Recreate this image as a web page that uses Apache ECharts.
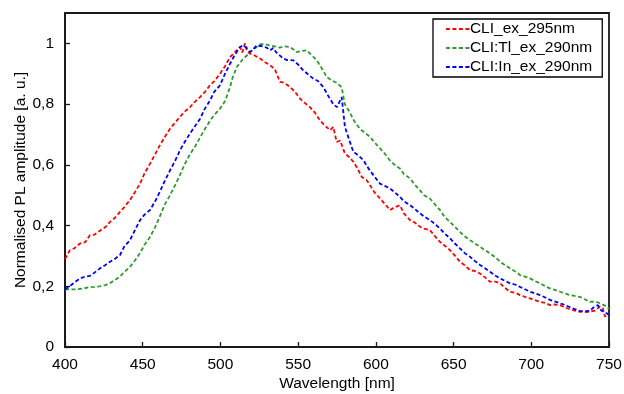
<!DOCTYPE html>
<html><head><meta charset="utf-8">
<script src="https://cdn.jsdelivr.net/npm/echarts@6/dist/echarts.min.js"></script>
<style>html,body{margin:0;padding:0;background:#fff}#c{width:624px;height:394px}</style>
</head><body><div id="c"></div>
<script>
const seriesNames = ['CLI_ex_295nm', 'CLI:Tl_ex_290nm', 'CLI:In_ex_290nm'];
const xTicks = [400, 450, 500, 550, 600, 650, 700, 750];
const yTicks = [0, 0.2, 0.4, 0.6, 0.8, 1];

const redX = [400,403.2,406,409.7,413,416,419,422.5,426,429,432,435.4,438,441.8,445,448.3,451,454.7,458,461,464,467.6,471,474,477,480.4,484,486.9,490,493.3,496,499.7,503,506.2,509,512.6,514,515.8,517,519,522,525.5,528,531.9,535,538.3,541,544.8,548,551.2,554,557.6,561,564,567,570.6,572.6,574.8,577,580.1,583,585.5,588,590.9,594,596.2,599,602.7,606,609.1,612,615.5,618,622,625,628.4,631,634.8,638,641.3,644,647.7,651,654.1,657,660.6,664,667,670,673.4,677,679.9,683,686.3,690,692.7,696,699.2,702,705.6,709,712,715,718.5,722,724.9,728,731.3,734,737.7,741,744.2,746,747.4,750];
const redY = [0.29,0.319,0.325,0.341,0.345,0.368,0.37,0.383,0.395,0.412,0.425,0.445,0.46,0.484,0.51,0.538,0.57,0.604,0.635,0.664,0.69,0.719,0.74,0.758,0.775,0.79,0.81,0.823,0.84,0.862,0.875,0.9,0.925,0.955,0.97,0.988,0.97,1.0,0.975,0.966,0.96,0.95,0.94,0.928,0.915,0.873,0.87,0.856,0.84,0.818,0.805,0.79,0.77,0.747,0.73,0.714,0.725,0.675,0.68,0.637,0.625,0.61,0.59,0.56,0.55,0.533,0.51,0.489,0.47,0.451,0.46,0.467,0.44,0.418,0.41,0.396,0.39,0.385,0.365,0.346,0.335,0.319,0.3,0.281,0.27,0.253,0.25,0.242,0.23,0.215,0.215,0.21,0.195,0.182,0.178,0.171,0.165,0.16,0.155,0.149,0.145,0.138,0.14,0.138,0.13,0.124,0.12,0.116,0.115,0.116,0.12,0.133,0.128,0.1,0.11];

const greenX = [400,404,407.5,412,416,419,422.5,426,429,432,435.4,438,441.8,445,448.3,451,454.7,458,461,464,467.6,471,474,477,480.4,484,486.9,490,493.3,496,499.7,503,506.2,508,510.5,514,517,520,523.3,525.5,528,532,535,538.3,541,544.8,547,549,552,555.5,558,562,565,568.4,571,574.8,578,580,583,586,589.7,593,596.2,599,602.7,606,609,612,615.5,618,622,625,628.4,631,634.8,638,641.3,644,647.7,651,654.1,657,660.6,664,667,670,673.4,677,679.9,683,686.3,690,692.7,696,699.2,702,705.6,709,712,715,718.5,722,724.9,728,731.3,734,737.7,741,744.2,746,748.5,750];
const greenY = [0.19,0.19,0.19,0.193,0.197,0.198,0.2,0.204,0.211,0.22,0.232,0.246,0.264,0.285,0.31,0.335,0.362,0.395,0.43,0.467,0.5,0.535,0.567,0.602,0.635,0.663,0.69,0.718,0.745,0.764,0.785,0.81,0.856,0.89,0.922,0.945,0.96,0.975,0.988,0.997,0.998,0.993,0.99,0.986,0.99,0.988,0.98,0.971,0.975,0.977,0.965,0.944,0.92,0.889,0.88,0.87,0.856,0.8,0.775,0.745,0.719,0.705,0.692,0.675,0.654,0.635,0.615,0.6,0.588,0.57,0.555,0.535,0.516,0.5,0.489,0.47,0.451,0.43,0.412,0.395,0.379,0.365,0.352,0.34,0.33,0.32,0.308,0.295,0.281,0.27,0.259,0.248,0.237,0.232,0.226,0.218,0.21,0.2,0.193,0.188,0.182,0.176,0.171,0.168,0.165,0.158,0.149,0.15,0.144,0.14,0.133,0.125];

const blueX = [400,403,405.4,409.7,413,416,419,422.5,426,429,432,435.4,438,441.8,445,448.3,451,454.7,458,461,464,467.6,471,474,477,480.4,484,486.9,490,493.3,496,499.7,503,506.2,509,512.6,514.7,517,519,521,523.3,527.7,530,532,534,536,540.4,543,546.9,550,553.3,556,559.7,563,566.2,569,572.6,575,578,580.1,583,585.5,589,592,595,598.4,602.7,606,609.1,612,615.5,618,622,625,628.4,631,634.8,638,641.3,644,647.7,651,654.1,657,660.6,664,667,670,673.4,677,679.9,683,686.3,690,692.7,696,699.2,702,705.6,709,712,715,718.5,722,724.9,728,731.3,734,737.7,740,742.9,745,748.5,750];
const blueY = [0.19,0.2,0.21,0.226,0.232,0.234,0.245,0.259,0.27,0.281,0.29,0.303,0.33,0.352,0.385,0.418,0.435,0.451,0.48,0.511,0.545,0.582,0.615,0.648,0.675,0.703,0.73,0.752,0.785,0.812,0.84,0.862,0.9,0.933,0.96,0.988,0.993,0.985,0.971,0.98,0.993,0.99,0.985,0.977,0.985,0.97,0.95,0.945,0.944,0.93,0.911,0.9,0.884,0.875,0.856,0.83,0.8,0.79,0.823,0.725,0.68,0.643,0.63,0.615,0.59,0.566,0.538,0.53,0.522,0.51,0.494,0.48,0.467,0.455,0.44,0.43,0.418,0.405,0.39,0.375,0.358,0.34,0.325,0.31,0.297,0.282,0.27,0.26,0.248,0.235,0.226,0.218,0.21,0.205,0.198,0.19,0.182,0.177,0.171,0.163,0.155,0.15,0.144,0.138,0.131,0.125,0.119,0.118,0.119,0.13,0.138,0.12,0.111,0.105];

const colors = ['#ff0000', '#2e9b2e', '#0000ff'];
const xs = [redX, greenX, blueX];
const ys = [redY, greenY, blueY];

const chart = echarts.init(document.getElementById('c'));
const font = 'Liberation Sans, Arial, sans-serif';
const fs = 15.5;
chart.setOption({
  animation: false,
  textStyle: {fontFamily: font},
  grid: {left: 65, right: 15, top: 13, bottom: 47, show: true, borderColor: '#1a1a1a', borderWidth: 1.8, outerBoundsMode: 'none', containLabel: false},
  legend: {
    orient: 'vertical', left: 433, top: 19,
    data: seriesNames,
    borderColor: '#000', borderWidth: 1.3,
    padding: [2, 10, 2, 12], itemGap: 3, itemWidth: 24, itemHeight: 15,
    itemStyle: {opacity: 0},
    lineStyle: {width: 1.8, type: [4, 2.5]},
    textStyle: {fontSize: fs, color: '#000', fontFamily: font, padding: [0,0,0,-5]}
  },
  xAxis: {
    type: 'value', min: 400, max: 750, interval: 50,
    name: 'Wavelength [nm]', nameLocation: 'middle', nameGap: 29, nameMoveOverlap: false,
    nameTextStyle: {fontSize: fs, color: '#000'},
    axisLine: {lineStyle: {color: '#1a1a1a', width: 1.8}},
    axisTick: {inside: true, length: 5, lineStyle: {color: '#1a1a1a', width: 1.3}},
    axisLabel: {fontSize: fs, color: '#000', margin: 10, formatter: v => xTicks.includes(v) ? String(v) : ''},
    splitLine: {show: false}
  },
  yAxis: {
    type: 'value', min: 0, max: 1.1, interval: 0.2,
    name: 'Normalised PL amplitude [a. u.]', nameLocation: 'middle', nameGap: 36, nameRotate: 90, nameMoveOverlap: false,
    nameTextStyle: {fontSize: fs, color: '#000'},
    axisLine: {lineStyle: {color: '#1a1a1a', width: 1.8}},
    axisTick: {inside: true, length: 5, lineStyle: {color: '#1a1a1a', width: 1.3}},
    axisLabel: {fontSize: fs, color: '#000', margin: 11, showMaxLabel: false,
      formatter: v => { const t = yTicks.find(k => Math.abs(k - v) < 1e-6); return t === undefined ? '' : String(t).replace('.', ','); }},
    splitLine: {show: false}
  },
  series: seriesNames.map((n, i) => ({
    name: n, type: 'line', showSymbol: false, symbol: 'none',
    data: xs[i].map((x, j) => [x, ys[i][j]]),
    lineStyle: {color: colors[i], width: 1.8, type: [4, 2.5]},
    itemStyle: {color: colors[i]}
  }))
});
</script></body></html>
